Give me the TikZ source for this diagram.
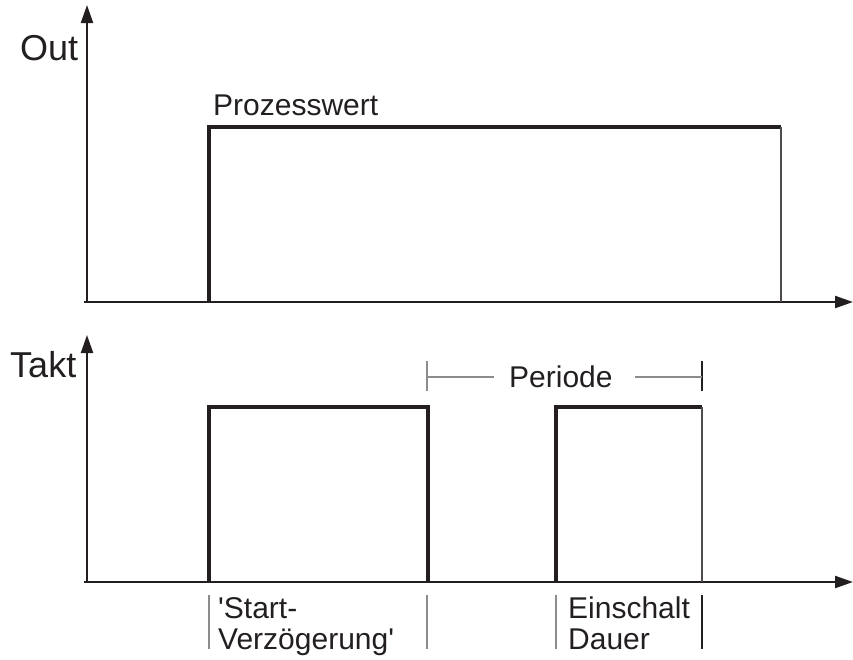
\documentclass[tikz,border=0pt]{standalone}
\usepackage{fontspec}
\setmainfont{Liberation Sans}
\usetikzlibrary{arrows.meta}
\definecolor{ink}{HTML}{231F20}
\begin{document}
\begin{tikzpicture}[x=1pt,y=-1pt,
 axis/.style={line width=2.2pt, draw=ink, -{Triangle[length=18pt,width=12pt]}},
 pulse/.style={line width=3.4pt, draw=ink, line join=miter},
 thinedge/.style={line width=2.2pt, draw=ink!80},
 marker/.style={line width=1.3pt, draw=black!45},
 lbl/.style={inner sep=0pt, anchor=base west, font=\fontsize{30}{31}\selectfont, text=ink},
 big/.style={inner sep=0pt, anchor=base west, font=\fontsize{36}{40}\selectfont, text=ink}]
\useasboundingbox (0,0) rectangle (853,659);
% ---- top chart
\coordinate (o1) at (87,303);
\coordinate (y1) at (87,5);
\coordinate (x1s) at (84,302);
\coordinate (x1) at (853,302);
\draw[axis] (o1) -- (y1);
\draw[axis] (x1s) -- (x1);
\coordinate (p1a) at (209,302);
\coordinate (p1b) at (209,127);
\coordinate (p1c) at (781,127);
\coordinate (p1d) at (781,302);
\draw[pulse] (p1a) -- (p1b) -- (p1c);
\draw[thinedge] (p1c) -- (p1d);
\node[big] (out) at (20,60) {Out};
\node[lbl] (pw) at (213,115) {Prozesswert};
% ---- bottom chart
\coordinate (o2) at (87,583);
\coordinate (y2) at (87,335);
\coordinate (x2s) at (84,582);
\coordinate (x2) at (853,582);
\draw[axis] (o2) -- (y2);
\draw[axis] (x2s) -- (x2);
\coordinate (q1a) at (209,582);
\coordinate (q1b) at (209,407);
\coordinate (q1c) at (428,407);
\coordinate (q1d) at (428,582);
\draw[pulse] (q1a) -- (q1b) -- (q1c) -- (q1d);
\coordinate (q2a) at (556,582);
\coordinate (q2b) at (556,407);
\coordinate (q2c) at (702,407);
\coordinate (q2d) at (702,582);
\draw[pulse] (q2a) -- (q2b) -- (q2c);
\draw[thinedge] (q2c) -- (q2d);
\node[big] (takt) at (10,377) {Takt};
% ---- Periode bracket
\coordinate (pl1) at (427,361);
\coordinate (pl2) at (427,391);
\coordinate (pr1) at (702,361);
\coordinate (pr2) at (702,391);
\coordinate (plm) at (427,377);
\coordinate (prm) at (702,377);
\coordinate (plg) at (494,377);
\coordinate (prg) at (635,377);
\draw[marker] (pl1) -- (pl2);
\draw[marker, draw=ink] (pr1) -- (pr2);
\draw[marker] (plm) -- (plg);
\draw[marker] (prg) -- (prm);
\node[lbl] (per) at (509,387) {Periode};
% ---- bottom markers
\coordinate (m1a) at (209,595); \coordinate (m1b) at (209,649);
\coordinate (m2a) at (427,595); \coordinate (m2b) at (427,649);
\coordinate (m3a) at (556,595); \coordinate (m3b) at (556,649);
\coordinate (m4a) at (702,595); \coordinate (m4b) at (702,649);
\draw[marker] (m1a) -- (m1b);
\draw[marker] (m2a) -- (m2b);
\draw[marker] (m3a) -- (m3b);
\draw[marker, draw=ink] (m4a) -- (m4b);
\node[lbl] (st1) at (218,618) {\textquotesingle Start-};
\node[lbl] (st2) at (218,649) {Verzögerung\textquotesingle};
\node[lbl] (ed1) at (568,618) {Einschalt};
\node[lbl] (ed2) at (568,649) {Dauer};
\end{tikzpicture}
\end{document}
